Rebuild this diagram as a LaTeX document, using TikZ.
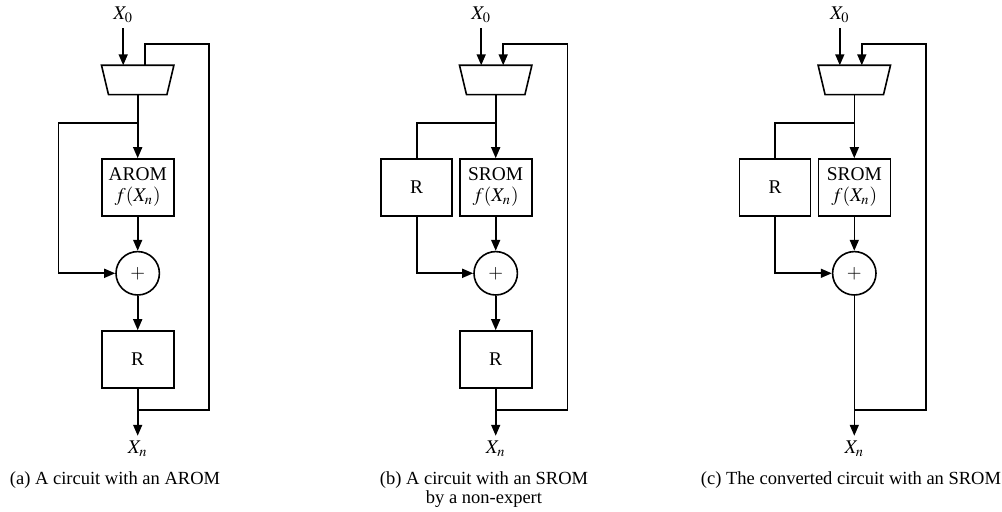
\documentclass[tikz,border=0pt]{standalone}
\usepackage{mathptmx}
\usepackage[no-math]{fontspec}
\setmainfont{Liberation Serif}
\usetikzlibrary{arrows.meta}

\tikzset{
  wire/.style={line width=0.8pt,draw=black},
  sig/.style={wire,-{Triangle[length=5.5pt,width=4.5pt]}},
  blockbox/.style={draw,line width=0.8pt,minimum width=36pt,minimum height=28.5pt,
                   inner sep=0pt,align=center,font=\fontsize{9.7}{10.5}\selectfont},
  muxbox/.style={minimum width=35.8pt,minimum height=14.3pt,inner sep=0pt},
  muxedge/.style={line width=0.8pt,line join=miter},
  addnode/.style={draw,circle,line width=0.8pt,minimum size=21.7pt,inner sep=0pt,
                  font=\fontsize{9.5}{10.5}\selectfont},
  signame/.style={inner sep=2.5pt,font=\fontsize{9.7}{10.5}\selectfont},
  subcap/.style={align=center,inner sep=0pt,anchor=north,
                 font=\fontsize{9.25}{9.6}\selectfont}
}

\begin{document}
\begin{tikzpicture}[x=0.5pt,y=-0.5pt]
  \useasboundingbox (0,0) rectangle (1002,512);

  % (a) circuit with an AROM
  \begin{scope}[shift={(137.7,0)}]
    \node[signame] (a-x0) at (-14.5,15) {$X_0$};
    \node[muxbox] (a-mux) at (0,80) {};
    \node[blockbox] (a-rom) at (0,187.5) {AROM\\$f(X_n)$};
    \node[addnode] (a-add) at (0,273.3) {$+$};
    \node[blockbox] (a-reg) at (0,359.5) {R};
    \node[signame] (a-xn) at (0,449) {$X_n$};
    \coordinate (a-split) at (0,123.3);
    \coordinate (a-left) at (-79.4,123.3);
    \coordinate (a-join) at (0,410);
    \coordinate (a-fb) at (71.3,44);
    \coordinate (a-fbin) at (7,44);
  \end{scope}
  \draw[muxedge] (a-mux.north west) -- (a-mux.north east)
    -- ([xshift=-3.5pt]a-mux.south east) -- ([xshift=3.5pt]a-mux.south west) -- cycle;
  \draw[sig] (a-x0.south) -- (a-x0.south |- a-mux.north);
  \draw[sig] (a-mux) -- (a-rom);
  \draw[sig] (a-rom) -- (a-add);
  \draw[sig] (a-add) -- (a-reg);
  \draw[sig] (a-reg) -- (a-xn);
  \draw[sig] (a-split) -| (a-left) |- (a-add);
  \draw[wire] (a-join) -| (a-fb) -- (a-fbin) -- (a-fbin |- a-mux.north);

  % (b) circuit with an SROM by a non-expert
  \begin{scope}[shift={(495.7,0)}]
    \node[signame] (b-x0) at (-14.5,15) {$X_0$};
    \node[muxbox] (b-mux) at (0,80) {};
    \node[blockbox,minimum width=35.5pt] (b-hold) at (-79,187.5) {R};
    \node[blockbox] (b-rom) at (0,187.5) {SROM\\$f(X_n)$};
    \node[addnode] (b-add) at (0,273.3) {$+$};
    \node[blockbox] (b-reg) at (0,359.5) {R};
    \node[signame] (b-xn) at (0,449) {$X_n$};
    \coordinate (b-split) at (0,123.3);
    \coordinate (b-join) at (0,410);
    \coordinate (b-fb) at (71.6,44);
    \coordinate (b-fbin) at (7.5,44);
  \end{scope}
  \draw[muxedge] (b-mux.north west) -- (b-mux.north east)
    -- ([xshift=-3.5pt]b-mux.south east) -- ([xshift=3.5pt]b-mux.south west) -- cycle;
  \draw[sig] (b-x0.south) -- (b-x0.south |- b-mux.north);
  \draw[sig] (b-mux) -- (b-rom);
  \draw[sig] (b-rom) -- (b-add);
  \draw[sig] (b-add) -- (b-reg);
  \draw[sig] (b-reg) -- (b-xn);
  \draw[wire] (b-split) -| (b-hold);
  \draw[sig] (b-hold) |- (b-add);
  \draw[sig] (b-join) -| (b-fb) -- (b-fbin) -- (b-fbin |- b-mux.north);

  % (c) converted circuit with an SROM
  \begin{scope}[shift={(854.3,0)}]
    \node[signame] (c-x0) at (-14.5,15) {$X_0$};
    \node[muxbox] (c-mux) at (0,80) {};
    \node[blockbox,minimum width=35.5pt] (c-hold) at (-79.3,187.5) {R};
    \node[blockbox] (c-rom) at (0,187.5) {SROM\\$f(X_n)$};
    \node[addnode] (c-add) at (0,273.3) {$+$};
    \node[signame] (c-xn) at (0,449) {$X_n$};
    \coordinate (c-split) at (0,123.3);
    \coordinate (c-join) at (0,410);
    \coordinate (c-fb) at (71.4,44);
    \coordinate (c-fbin) at (7.5,44);
  \end{scope}
  \draw[muxedge] (c-mux.north west) -- (c-mux.north east)
    -- ([xshift=-3.5pt]c-mux.south east) -- ([xshift=3.5pt]c-mux.south west) -- cycle;
  \draw[sig] (c-x0.south) -- (c-x0.south |- c-mux.north);
  \draw[sig] (c-mux) -- (c-rom);
  \draw[sig] (c-rom) -- (c-add);
  \draw[sig] (c-add) -- (c-xn);
  \draw[wire] (c-split) -| (c-hold);
  \draw[sig] (c-hold) |- (c-add);
  \draw[sig] (c-join) -| (c-fb) -- (c-fbin) -- (c-fbin |- c-mux.north);

  % sub-captions
  \node[subcap] (a-cap) at (115,471) {(a) A circuit with an AROM};
  \node[subcap] (b-cap) at (484,471) {(b) A circuit with an SROM\\by a non-expert};
  \node[subcap] (c-cap) at (851,471) {(c) The converted circuit with an SROM};
\end{tikzpicture}
\end{document}
